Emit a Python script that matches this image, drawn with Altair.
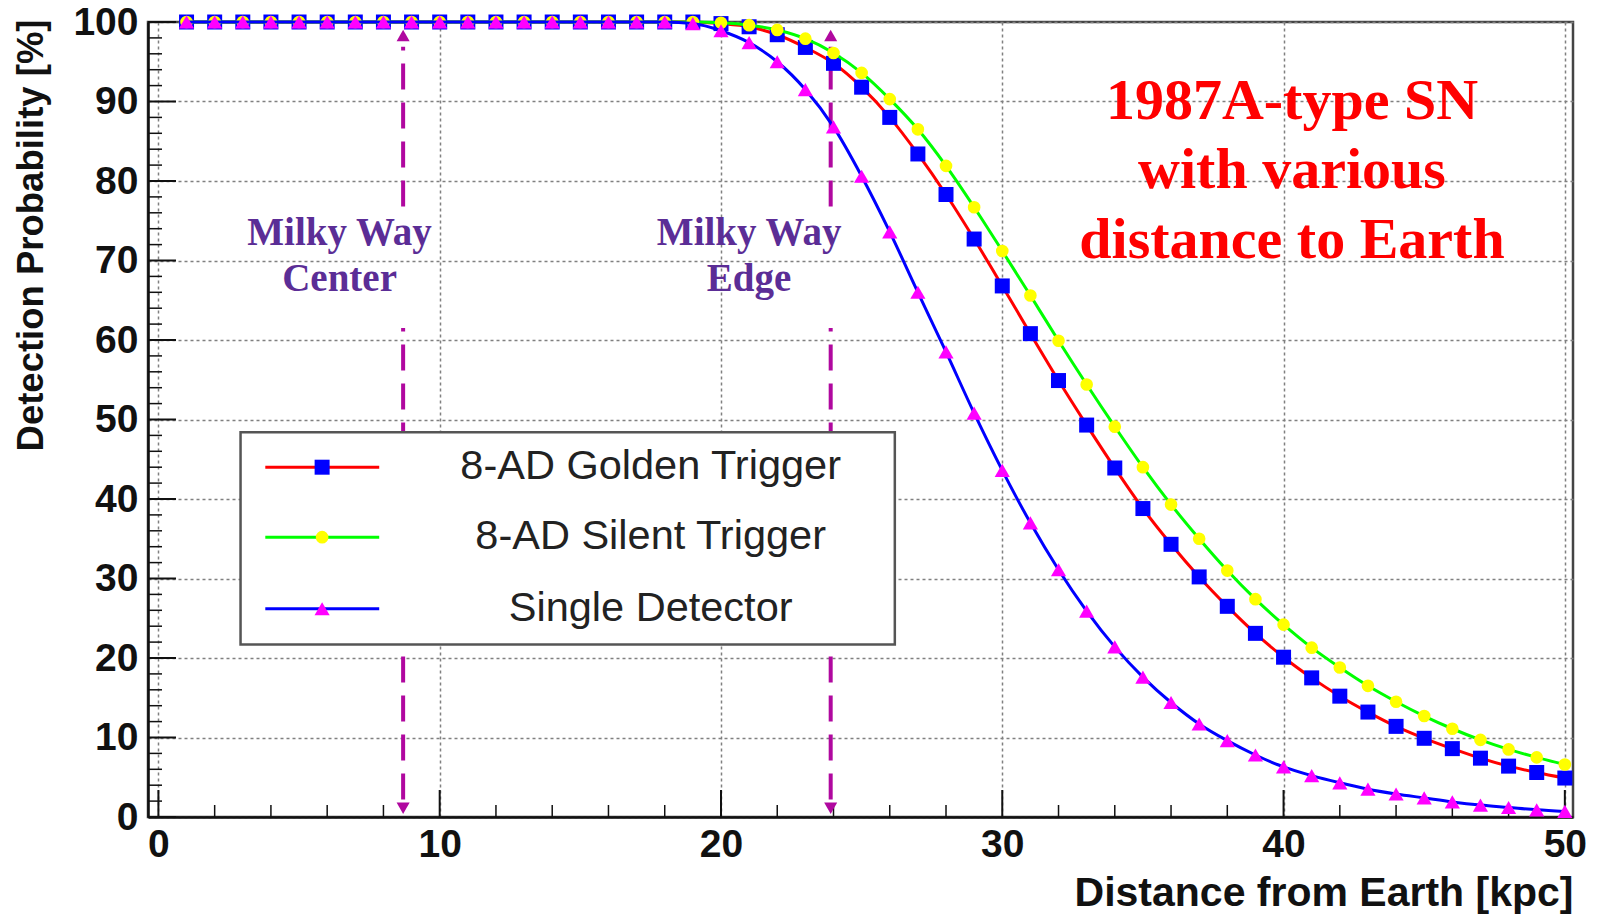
import altair as alt
import pandas as pd

# ---------------- data ----------------
distance = [1, 2, 3, 4, 5, 6, 7, 8, 9, 10, 11, 12, 13, 14, 15, 16, 17, 18, 19, 20,
            21, 22, 23, 24, 25, 26, 27, 28, 29, 30, 31, 32, 33, 34, 35, 36, 37, 38, 39, 40,
            41, 42, 43, 44, 45, 46, 47, 48, 49, 50]

golden = [100, 100, 100, 100, 100, 100, 100, 100, 100, 100, 100, 100, 100, 100, 100, 100, 100, 100, 100, 99.8,
          99.4, 98.4, 96.8, 94.8, 91.8, 88.0, 83.4, 78.3, 72.7, 66.8, 60.8, 54.9, 49.3, 43.9, 38.8, 34.3, 30.2, 26.5, 23.1, 20.1,
          17.5, 15.2, 13.2, 11.4, 9.9, 8.6, 7.4, 6.4, 5.6, 4.9]

silent = [100, 100, 100, 100, 100, 100, 100, 100, 100, 100, 100, 100, 100, 100, 100, 100, 100, 100, 100, 99.9,
          99.6, 99.0, 97.9, 96.1, 93.6, 90.3, 86.5, 81.9, 76.7, 71.2, 65.6, 59.9, 54.4, 49.1, 44.0, 39.3, 35.0, 31.0, 27.4, 24.2,
          21.3, 18.8, 16.5, 14.5, 12.7, 11.1, 9.7, 8.5, 7.5, 6.6]

single = [100, 100, 100, 100, 100, 100, 100, 100, 100, 100, 100, 100, 100, 100, 100, 100, 100, 100, 99.8, 98.9,
          97.4, 95.0, 91.5, 86.8, 80.6, 73.6, 66.0, 58.5, 50.8, 43.6, 37.0, 31.1, 25.9, 21.4, 17.6, 14.4, 11.7, 9.6, 7.8, 6.3,
          5.2, 4.3, 3.5, 2.9, 2.4, 1.9, 1.5, 1.2, 0.9, 0.7]

series_names = ["8-AD Golden Trigger", "8-AD Silent Trigger", "Single Detector"]
line_colors = ["#ff0000", "#00ff00", "#0000ff"]
marker_colors = ["#0000ff", "#ffff00", "#ff00ff"]
marker_shapes = ["square", "circle", "triangle-up"]
marker_sizes = [225, 160, 230]

x_major = [0, 10, 20, 30, 40, 50]
x_minor = [2, 4, 6, 8, 12, 14, 16, 18, 22, 24, 26, 28, 32, 34, 36, 38, 42, 44, 46, 48]
y_major = [0, 10, 20, 30, 40, 50, 60, 70, 80, 90, 100]
y_minor = [2, 4, 6, 8, 12, 14, 16, 18, 22, 24, 26, 28, 32, 34, 36, 38, 42, 44, 46, 48,
           52, 54, 56, 58, 62, 64, 66, 68, 72, 74, 76, 78, 82, 84, 86, 88, 92, 94, 96, 98]

# milky-way markers (kpc)
mw_x = [8.7, 23.9]
mw_text_x = [6.44, 21.0]
mw_line1 = ["Milky Way", "Milky Way"]
mw_line2 = ["Center", "Edge"]

title_lines = ["1987A-type SN", "with various", "distance to Earth"]
title_y = [89.9, 81.2, 72.4]
title_x = 40.3

# legend layout (in data units)
leg_box = {"x": 2.92, "x2": 26.18, "y": 21.7, "y2": 48.4}
leg_rows_y = [44.0, 35.2, 26.2]
leg_line_x = [3.8, 7.85]
leg_marker_x = 5.82
leg_text_x = 17.5

W, H = 1425, 795

# ---------------- frames ----------------
curves = pd.DataFrame({
    "d": distance * 3,
    "p": golden + silent + single,
    "s": [series_names[0]] * 50 + [series_names[1]] * 50 + [series_names[2]] * 50,
})

xs = alt.Scale(domain=[-0.37, 50.29], nice=False, zero=False)
ys = alt.Scale(domain=[0, 100], nice=False, zero=False)

xaxis = alt.Axis(values=x_major, grid=True, gridDash=[3, 3], gridColor="#808080", gridWidth=1.5,
                 ticks=False, domain=True, domainColor="#111", domainWidth=2.5,
                 labelFont="Liberation Sans", labelFontWeight="bold", labelFontSize=39, labelColor="#111",
                 labelPadding=8, format="d",
                 title="Distance from Earth [kpc]", titleFont="Liberation Sans", titleFontWeight="bold",
                 titleFontSize=41, titleColor="#111", titleAnchor="end", titleAlign="right",
                 titleBaseline="middle", titleX=W, titleY=76)
yaxis = alt.Axis(values=y_major, grid=True, gridDash=[3, 3], gridColor="#808080", gridWidth=1.5,
                 ticks=False, domain=True, domainColor="#111", domainWidth=2.5,
                 labelFont="Liberation Sans", labelFontWeight="bold", labelFontSize=39, labelColor="#111",
                 labelPadding=10, format="d",
                 title="Detection Probability [%]", titleFont="Liberation Sans", titleFontWeight="bold",
                 titleFontSize=36.5, titleColor="#111", titleAnchor="end",
                 titleBaseline="middle", titleX=-117, titleY=-3)


def xq(f="v"):
    return alt.X(f + ":Q", scale=xs, axis=xaxis)


def yq(f="v"):
    return alt.Y(f + ":Q", scale=ys, axis=yaxis)


ymin_t = alt.Chart(pd.DataFrame({"v": y_minor})).mark_rule(color="#111", strokeWidth=1.5).encode(
    y=yq(), x=alt.value(0), x2=alt.value(14))
ymaj_t = alt.Chart(pd.DataFrame({"v": y_major})).mark_rule(color="#111", strokeWidth=2).encode(
    y=yq(), x=alt.value(0), x2=alt.value(28))
xmin_t = alt.Chart(pd.DataFrame({"v": x_minor})).mark_rule(color="#111", strokeWidth=1.5).encode(
    x=xq(), y=alt.value(H), y2=alt.value(H - 12))
xmaj_t = alt.Chart(pd.DataFrame({"v": x_major})).mark_rule(color="#111", strokeWidth=2).encode(
    x=xq(), y=alt.value(H), y2=alt.value(H - 27))

# arrows
arrow_seg = pd.DataFrame({
    "x": [mw_x[0], mw_x[0], mw_x[1], mw_x[1]],
    "y": [76.8, 2.2, 76.8, 2.2],
    "y2": [96.9, 61.5, 96.9, 61.5],
})
arrow_c = "#b0089f"
arrows = alt.Chart(arrow_seg).mark_rule(color=arrow_c, strokeWidth=4, strokeDash=[26, 13]).encode(
    x=xq("x"), y=yq("y"), y2=alt.Y2("y2:Q"))
heads_up = alt.Chart(pd.DataFrame({"x": mw_x, "y": [98.3, 98.3]})).mark_point(
    shape="triangle-up", filled=True, color=arrow_c, opacity=1, size=170).encode(x=xq("x"), y=yq("y"))
heads_dn = alt.Chart(pd.DataFrame({"x": mw_x, "y": [1.1, 1.1]})).mark_point(
    shape="triangle-down", filled=True, color=arrow_c, opacity=1, size=170).encode(x=xq("x"), y=yq("y"))

# curves
curve_layers = []
for i, name in enumerate(series_names):
    c = alt.Chart(curves).transform_filter(alt.datum.s == name)
    curve_layers.append(c.mark_line(color=line_colors[i], strokeWidth=3, interpolate="monotone").encode(
        x=xq("d"), y=yq("p")))
    curve_layers.append(c.mark_point(shape=marker_shapes[i], filled=True, color=marker_colors[i],
                                     opacity=1, size=marker_sizes[i]).encode(x=xq("d"), y=yq("p")))

# legend
leg_rect = alt.Chart(pd.DataFrame([leg_box])).mark_rect(fill="white", stroke="#555", strokeWidth=2.5).encode(
    x=xq("x"), x2=alt.X2("x2:Q"), y=yq("y"), y2=alt.Y2("y2:Q"))
leg_df = pd.DataFrame({
    "s": series_names,
    "y": leg_rows_y,
    "x1": [leg_line_x[0]] * 3,
    "x2": [leg_line_x[1]] * 3,
    "xm": [leg_marker_x] * 3,
    "xt": [leg_text_x] * 3,
})
leg_layers = []
for i, name in enumerate(series_names):
    c = alt.Chart(leg_df).transform_filter(alt.datum.s == name)
    leg_layers.append(c.mark_rule(color=line_colors[i], strokeWidth=3).encode(
        x=xq("x1"), x2=alt.X2("x2:Q"), y=yq("y")))
    leg_layers.append(c.mark_point(shape=marker_shapes[i], filled=True, color=marker_colors[i],
                                   opacity=1, size=marker_sizes[i]).encode(x=xq("xm"), y=yq("y")))
leg_text = alt.Chart(leg_df).mark_text(font="Liberation Sans", fontSize=41.5, color="#222",
                                       align="center", baseline="middle").encode(
    x=xq("xt"), y=yq("y"), text="s:N")

# annotations
mw_df = pd.DataFrame({
    "x": mw_text_x * 2,
    "y": [73.5, 73.5, 67.7, 67.7],
    "t": mw_line1 + mw_line2,
})
mw_text = alt.Chart(mw_df).mark_text(font="Liberation Serif", fontWeight="bold", fontSize=39,
                                     color="#5b2d96", align="center", baseline="middle").encode(
    x=xq("x"), y=yq("y"), text="t:N")
title_df = pd.DataFrame({"x": [title_x] * 3, "y": title_y, "t": title_lines})
title_text = alt.Chart(title_df).mark_text(font="Liberation Serif", fontWeight="bold", fontSize=58,
                                           color="#ff0000", align="center", baseline="middle").encode(
    x=xq("x"), y=yq("y"), text="t:N")

chart = alt.layer(
    ymin_t, ymaj_t, xmin_t, xmaj_t,
    arrows, heads_up, heads_dn,
    *curve_layers,
    leg_rect, *leg_layers, leg_text,
    mw_text, title_text,
).properties(
    width=W, height=H,
    autosize=alt.AutoSizeParams(type="none"),
    padding={"left": 148, "top": 22, "right": 25, "bottom": 98},
    background="white",
).configure_view(stroke="#444", strokeWidth=2.5)

chart.save("out.html", embed_options={"renderer": "svg", "actions": False})
